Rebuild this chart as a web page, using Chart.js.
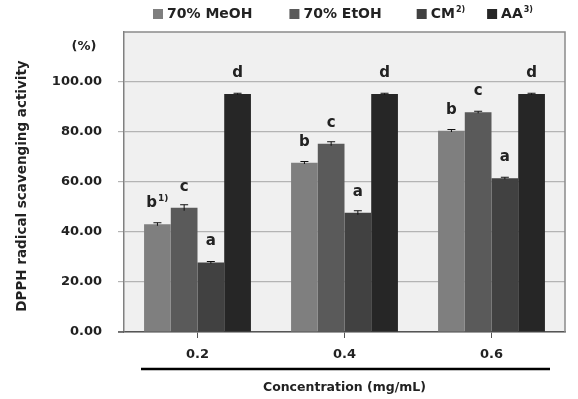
<!DOCTYPE html>
<html>
<head>
<meta charset="utf-8">
<script src="https://cdn.jsdelivr.net/npm/chart.js@4.4.1/dist/chart.umd.min.js"></script>
<style>
  html, body { margin: 0; padding: 0; background: #fff; }
  #wrap { width: 578px; height: 399px; }
</style>
</head>
<body>
<div id="wrap"><canvas id="dpphChart" width="578" height="399"></canvas></div>
<script>
// Data
const categories = ['0.2', '0.4', '0.6'];
const seriesNames = ['70% MeOH', '70% EtOH', 'CM', 'AA'];
const seriesSup = ['', '', '2)', '3)'];
const meohValues = [43.1, 67.7, 80.5];
const etohValues = [49.7, 75.3, 87.9];
const cmValues = [27.8, 47.7, 61.5];
const aaValues = [95.2, 95.2, 95.2];
const meohErr = [0.6, 0.5, 0.5];
const etohErr = [1.2, 0.8, 0.4];
const cmErr = [0.4, 0.8, 0.4];
const aaErr = [0.3, 0.3, 0.3];
const meohLetters = ['b', 'b', 'b'];
const etohLetters = ['c', 'c', 'c'];
const cmLetters = ['a', 'a', 'a'];
const aaLetters = ['d', 'd', 'd'];
const yTicks = [0, 20, 40, 60, 80, 100];

const colors = ['#7f7f7f', '#5a5a5a', '#414141', '#262626'];
const FONT = '"DejaVu Sans", sans-serif';
const TEXT = '#222';

const errs = [meohErr, etohErr, cmErr, aaErr];
const letters = [meohLetters, etohLetters, cmLetters, aaLetters];

// text with a small raised part, centred on x (or left aligned)
function drawSup(ctx, main, sup, x, y, size, align) {
  const supSize = Math.round(size * 0.58);
  ctx.font = 'bold ' + size + 'px ' + FONT;
  const w1 = ctx.measureText(main).width;
  ctx.font = 'bold ' + supSize + 'px ' + FONT;
  const w2 = sup ? ctx.measureText(sup).width + 1 : 0;
  const x0 = align === 'left' ? x : x - (w1 + w2) / 2;
  ctx.textAlign = 'left';
  ctx.textBaseline = 'middle';
  ctx.font = 'bold ' + size + 'px ' + FONT;
  ctx.fillText(main, x0, y);
  if (sup) {
    ctx.font = 'bold ' + supSize + 'px ' + FONT;
    ctx.fillText(sup, x0 + w1 + 1, y - size * 0.3);
  }
  return w1 + w2;
}

const decorPlugin = {
  id: 'decor',
  beforeDraw(chart) {
    const { ctx, chartArea: a } = chart;
    ctx.save();
    ctx.fillStyle = '#f0f0f0';
    ctx.fillRect(a.left, a.top, a.right - a.left, a.bottom - a.top);
    ctx.restore();
  },
  afterDatasetsDraw(chart) {
    const { ctx, chartArea: a, scales } = chart;
    const y = scales.y;
    ctx.save();
    // frame top / right
    ctx.strokeStyle = '#8a8a8a';
    ctx.lineWidth = 1.5;
    ctx.beginPath();
    ctx.moveTo(a.left, a.top);
    ctx.lineTo(a.right, a.top);
    ctx.lineTo(a.right, a.bottom);
    ctx.stroke();
    // axis line runs a little past the y axis, like the original
    ctx.strokeStyle = '#555';
    ctx.beginPath();
    ctx.moveTo(a.left - 6, a.bottom);
    ctx.lineTo(a.left, a.bottom);
    ctx.stroke();

    // error bars and letters
    chart.data.datasets.forEach((ds, di) => {
      const meta = chart.getDatasetMeta(di);
      meta.data.forEach((bar, i) => {
        const v = ds.data[i];
        const e = errs[di][i];
        const yt = y.getPixelForValue(v + e);
        const yb = y.getPixelForValue(v - e);
        ctx.strokeStyle = '#111';
        ctx.lineWidth = 1;
        ctx.beginPath();
        ctx.moveTo(bar.x, yt); ctx.lineTo(bar.x, yb);
        ctx.moveTo(bar.x - 4, yt); ctx.lineTo(bar.x + 4, yt);
        ctx.stroke();
        ctx.fillStyle = TEXT;
        const sup = (di === 0 && i === 0) ? '1)' : '';
        drawSup(ctx, letters[di][i], sup, bar.x, y.getPixelForValue(v) - 21, 15);
      });
    });
    ctx.restore();
  },
  afterDraw(chart) {
    const { ctx, chartArea: a, scales } = chart;
    ctx.save();
    ctx.fillStyle = TEXT;
    // (%) unit label
    ctx.font = 'bold 13px ' + FONT;
    ctx.textAlign = 'center';
    ctx.textBaseline = 'middle';
    ctx.fillText('(%)', a.left - 40, scales.y.getPixelForValue(114));

    // y title
    ctx.save();
    ctx.translate(22, (a.top + a.bottom) / 2 + 4);
    ctx.rotate(-Math.PI / 2);
    ctx.font = 'bold 13.5px ' + FONT;
    ctx.fillText('DPPH radical scavenging activity', 0, 0);
    ctx.restore();

    // black rule under the category labels
    ctx.strokeStyle = '#000';
    ctx.lineWidth = 2.5;
    ctx.beginPath();
    ctx.moveTo(a.left + 17, 369);
    ctx.lineTo(a.right - 15, 369);
    ctx.stroke();

    // x title
    ctx.font = 'bold 12.5px ' + FONT;
    ctx.textAlign = 'center';
    ctx.fillText('Concentration (mg/mL)', (a.left + a.right) / 2, 388);

    // legend
    const gaps = [37, 35, 22];
    let lx = 153;
    const ly = 14;
    seriesNames.forEach((name, i) => {
      ctx.fillStyle = colors[i];
      ctx.fillRect(lx, ly - 5, 10, 10);
      ctx.fillStyle = TEXT;
      const w = drawSup(ctx, name, seriesSup[i], lx + 14, ly, 14, 'left');
      lx += 14 + w + (gaps[i] || 0);
    });
    ctx.restore();
  }
};

new Chart(document.getElementById('dpphChart'), {
  type: 'bar',
  data: {
    labels: categories,
    datasets: [
      { label: seriesNames[0], data: meohValues, backgroundColor: colors[0] },
      { label: seriesNames[1], data: etohValues, backgroundColor: colors[1] },
      { label: seriesNames[2], data: cmValues, backgroundColor: colors[2] },
      { label: seriesNames[3], data: aaValues, backgroundColor: colors[3] }
    ].map(d => Object.assign(d, { barPercentage: 1, categoryPercentage: 0.727, borderWidth: 0 }))
  },
  options: {
    responsive: false,
    animation: false,
    layout: { padding: { top: 32, right: 13, left: 0, bottom: 0 } },
    plugins: { legend: { display: false }, tooltip: { enabled: false } },
    scales: {
      x: {
        offset: true,
        grid: { drawOnChartArea: false, offset: false, tickLength: 6, color: '#555' },
        border: { color: '#555', width: 1.5 },
        ticks: { color: TEXT, font: { family: FONT, size: 13, weight: 'bold' }, padding: 9 },
        afterFit(s) { s.height = 67; }
      },
      y: {
        min: 0,
        max: 120,
        afterBuildTicks(s) { s.ticks = yTicks.concat([120]).map(v => ({ value: v })); },
        grid: {
          tickLength: 6,
          color: ctx => ctx.tick && ctx.tick.value === 120 ? 'rgba(0,0,0,0)' : '#b4b4b4',
          lineWidth: 1.2
        },
        border: { color: '#808080', width: 1.5 },
        ticks: {
          color: TEXT,
          font: { family: FONT, size: 13, weight: 'bold' },
          padding: 16,
          callback: v => v === 120 ? '' : v.toFixed(2)
        },
        afterFit(s) { s.width = 124; }
      }
    }
  },
  plugins: [decorPlugin]
});
</script>
</body>
</html>
